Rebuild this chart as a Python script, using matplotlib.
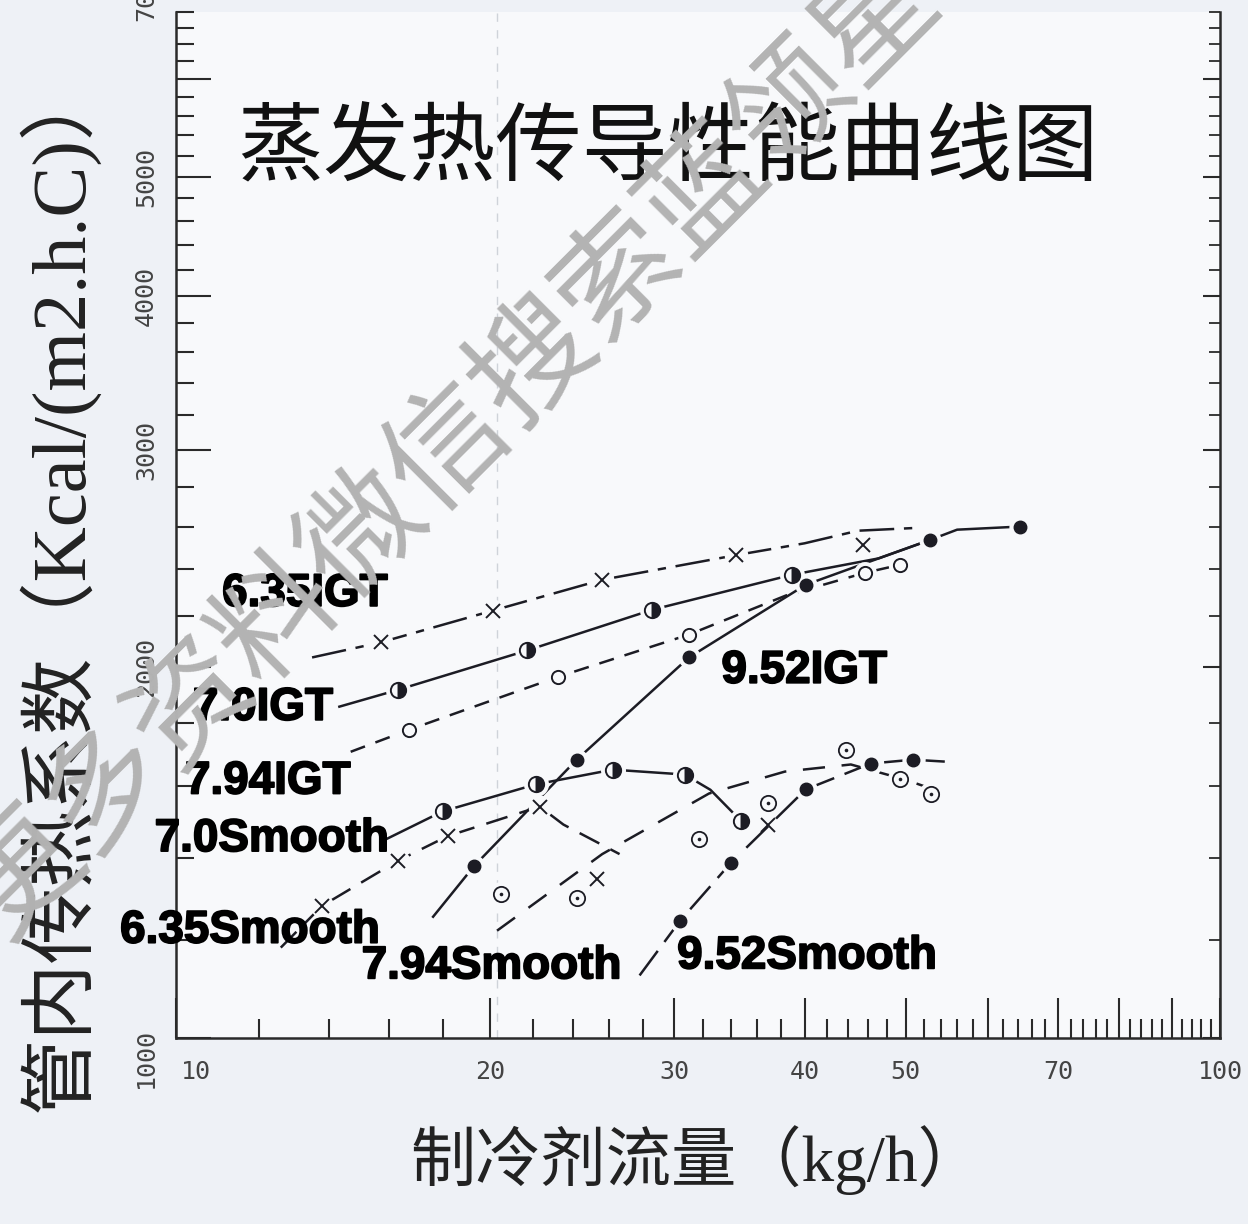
import matplotlib
matplotlib.use("Agg")
import matplotlib.pyplot as plt
import matplotlib.patheffects as pe
from matplotlib.ticker import NullFormatter
from matplotlib.transforms import ScaledTranslation

plt.rcParams["lines.scale_dashes"] = False
plt.rcParams["ytick.alignment"] = "center"

# ---------------- axis ticks ----------------
x_major = [10, 20, 30, 40, 50, 60, 70, 80, 90, 100]
x_major_labels = ["10", "20", "30", "40", "50", "", "70", "", "", "100"]
x_minor = [v for v in range(12, 100, 2) if v % 10]
y_major = [1000, 2000, 3000, 4000, 5000, 6000]
y_major_labels = ["1000", "2000", "3000", "4000", "5000", ""]
y_minor = [v for v in range(1200, 7000, 200) if v % 1000]

# ---------------- series (flow kg/h, coefficient) ----------------
# 6.35 IGT  (crosses, dash-dot)
igt635_pts_x = [15.7, 20.1, 25.6, 34.4, 45.5]
igt635_pts_y = [2094, 2222, 2354, 2465, 2512]
igt635_curve_x = [13.5, 15.7, 20.1, 25.6, 34.4, 40.0, 45.0, 51.4]
igt635_curve_y = [2036, 2094, 2222, 2354, 2465, 2520, 2580, 2594]

# 7.0 IGT  (half-filled circles, solid)
igt70_pts_x = [16.3, 21.7, 28.6, 38.9]
igt70_pts_y = [1916, 2063, 2226, 2376]
igt70_curve_x = [14.3, 16.3, 21.7, 28.6, 38.9, 47.1, 52.7]
igt70_curve_y = [1856, 1916, 2063, 2226, 2376, 2450, 2535]

# 7.94 IGT  (open circles, dashed)
igt794_pts_x = [16.7, 23.2, 31.0, 45.7, 49.4]
igt794_pts_y = [1778, 1963, 2125, 2385, 2421]
igt794_curve_x = [14.7, 16.7, 23.2, 31.0, 38.4, 45.7, 49.4]
igt794_curve_y = [1707, 1778, 1963, 2125, 2286, 2385, 2421]

# 9.52 IGT  (filled dots, solid)
igt952_pts_x = [19.3, 24.2, 31.0, 40.1, 52.7, 64.3]
igt952_pts_y = [1379, 1682, 2036, 2332, 2535, 2600]
igt952_curve_x = [17.6, 19.3, 24.2, 31.0, 40.1, 47.1, 52.7, 56.0, 64.3]
igt952_curve_y = [1252, 1379, 1682, 2036, 2332, 2450, 2535, 2585, 2600]

# 6.35 Smooth  (crosses, dashed)
sm635_pts_x = [13.8, 16.3, 18.2, 22.3]
sm635_pts_y = [1280, 1392, 1458, 1541]
sm635_curve_x = [12.6, 13.8, 16.3, 18.2, 22.3, 23.5, 26.6]
sm635_curve_y = [1184, 1280, 1392, 1458, 1541, 1490, 1410]

# 7.0 Smooth  (half-filled circles, solid)
sm70_pts_x = [18.0, 22.1, 26.2, 30.7, 34.8]
sm70_pts_y = [1527, 1606, 1651, 1636, 1499]
sm70_curve_x = [15.9, 18.0, 22.1, 26.2, 30.7, 32.5, 34.8]
sm70_curve_y = [1450, 1527, 1606, 1651, 1636, 1590, 1499]

# 7.94 Smooth  (dotted circles, dashed)
sm794_pts_x = [20.5, 24.2, 31.7, 36.9, 43.8, 49.4, 52.9]
sm794_pts_y = [1309, 1299, 1450, 1550, 1713, 1623, 1579]
sm794_curve_x = [20.3, 25.6, 32.4, 38.3, 44.3, 50.0, 55.0]
sm794_curve_y = [1222, 1410, 1579, 1645, 1667, 1620, 1575]

# 9.52 Smooth  (filled dots, long dash)
sm952_pts_x = [30.4, 34.0, 40.1, 46.3, 50.8]
sm952_pts_y = [1245, 1387, 1591, 1670, 1682]
sm952_curve_x = [27.8, 30.4, 34.0, 40.1, 46.3, 50.8, 54.5]
sm952_curve_y = [1124, 1245, 1387, 1591, 1670, 1682, 1676]

# stray cross marks on the curves
cross_x = [25.3, 36.9]
cross_y = [1346, 1490]

# curve labels: text, x, baseline y
label_text = ["6.35IGT", "7.0IGT", "7.94IGT", "7.0Smooth", "6.35Smooth",
              "7.94Smooth", "9.52Smooth", "9.52IGT"]
label_x = [11.07, 10.38, 10.2, 9.54, 8.84, 15.06, 30.2, 33.3]
label_y = [2242, 1812, 1579, 1418, 1195, 1118, 1139, 1942]

# ---------------- styling ----------------
INK = "#1c1c24"
BG_FIG = "#eef1f6"
BG_AX = "#f8f9fb"
TICK_TXT = "#444444"

fig = plt.figure(figsize=(12.48, 12.24), dpi=100, facecolor=BG_FIG)
ax = fig.add_axes([176 / 1248, 1 - 1038 / 1224, (1220 - 176) / 1248, (1038 - 12) / 1224])
ax.set_facecolor(BG_AX)
ax.set_xscale("log")
ax.set_yscale("log")
ax.set_xlim(10, 100)
ax.set_ylim(1000, 6720)

ax.axvline(20.3, color="#cfd3d9", lw=1.0, ls=(0, (6, 6)), zorder=1)

MARKERS = {
    "cross": dict(marker="x", ms=10, mew=1.4, mec=INK),
    "open": dict(marker="o", ms=9.5, mew=1.4, mec=INK, mfc=BG_AX),
    "half": dict(marker="o", ms=11, mew=1.4, mec=INK, mfc=INK,
                 fillstyle="right", markerfacecoloralt=BG_AX),
    "filled": dict(marker="o", ms=9, mew=1.0, mec=INK, mfc=INK),
    "dotted": dict(marker="o", ms=11, mew=1.3, mec=INK, mfc=BG_AX),
}

series = [
    (igt635_curve_x, igt635_curve_y, igt635_pts_x, igt635_pts_y, (0, (25, 7, 6, 7)), "cross"),
    (igt70_curve_x, igt70_curve_y, igt70_pts_x, igt70_pts_y, "-", "half"),
    (igt794_curve_x, igt794_curve_y, igt794_pts_x, igt794_pts_y, (0, (11, 8)), "open"),
    (igt952_curve_x, igt952_curve_y, igt952_pts_x, igt952_pts_y, "-", "filled"),
    (sm635_curve_x, sm635_curve_y, sm635_pts_x, sm635_pts_y, (0, (16, 9)), "cross"),
    (sm70_curve_x, sm70_curve_y, sm70_pts_x, sm70_pts_y, "-", "half"),
    (sm794_curve_x, sm794_curve_y, sm794_pts_x, sm794_pts_y, (0, (16, 12)), "dotted"),
    (sm952_curve_x, sm952_curve_y, sm952_pts_x, sm952_pts_y, (0, (22, 8)), "filled"),
]

for cx, cy, px, py, ls, kind in series:
    ax.plot(cx, cy, color=INK, lw=1.8, ls=ls, zorder=3, solid_capstyle="butt")
for cx, cy, px, py, ls, kind in series:
    mk = MARKERS[kind]
    ax.plot(px, py, ls="none", marker="o", ms=mk["ms"] + 7, mfc=BG_AX, mec="none", zorder=4)
    ax.plot(px, py, ls="none", zorder=5, **mk)
    if kind == "dotted":
        ax.plot(px, py, ls="none", marker="o", ms=2.6, mfc=INK, mec="none", zorder=6)

ax.plot(cross_x, cross_y, ls="none", zorder=5, **MARKERS["cross"])

for t, x, y in zip(label_text, label_x, label_y):
    ax.text(x, y, t, fontsize=33, fontweight="bold", family="Liberation Sans",
            color="#000000", ha="left", va="baseline", clip_on=False, zorder=8,
            path_effects=[pe.withStroke(linewidth=1.3, foreground="#000000")])

# ---------------- axes frame and ticks ----------------
ax.set_xticks(x_major, x_major_labels)
ax.set_xticks(x_minor, minor=True)
ax.set_yticks(y_major, y_major_labels)
ax.set_yticks(y_minor, minor=True)
ax.xaxis.set_minor_formatter(NullFormatter())
ax.yaxis.set_minor_formatter(NullFormatter())

ax.tick_params(axis="x", which="major", direction="in", length=29, width=1.5,
               color="#2a2a2a", pad=16, labelsize=18, labelcolor=TICK_TXT)
ax.tick_params(axis="x", which="minor", direction="in", length=14, width=1.5, color="#2a2a2a")
ax.tick_params(axis="y", which="major", direction="in", length=25, width=1.5,
               color="#2a2a2a", pad=13, labelsize=18, labelcolor=TICK_TXT,
               labelrotation=90, right=False)
ax.tick_params(axis="y", which="minor", direction="in", length=13, width=1.5,
               color="#2a2a2a", right=False)

for lbl in ax.get_xticklabels() + ax.get_yticklabels():
    lbl.set_fontfamily("DejaVu Sans Mono")
for lbl in ax.get_yticklabels():
    lbl.set_verticalalignment("center")

ax.spines["top"].set_visible(False)
ax.spines["right"].set_visible(False)
for s in ("left", "bottom"):
    ax.spines[s].set_linewidth(1.8)
    ax.spines[s].set_color("#2a2a2a")

# right-hand scale with shorter ticks
ax2 = ax.twinx()
ax2.set_yscale("log")
ax2.set_ylim(ax.get_ylim())
ax2.set_yticks(y_major)
ax2.set_yticks(y_minor, minor=True)
ax2.yaxis.set_major_formatter(NullFormatter())
ax2.yaxis.set_minor_formatter(NullFormatter())
ax2.tick_params(axis="y", which="major", direction="in", length=12, width=1.5, color="#2a2a2a")
ax2.tick_params(axis="y", which="minor", direction="in", length=8, width=1.3, color="#2a2a2a")
for s in ("left", "top", "bottom"):
    ax2.spines[s].set_visible(False)
ax2.spines["right"].set_linewidth(1.8)
ax2.spines["right"].set_color("#2a2a2a")

# nudge the corner labels away from the axis crossing
fig.canvas.draw()
xl = ax.get_xticklabels()[0]
xl.set_transform(xl.get_transform() + ScaledTranslation(0.2, 0, fig.dpi_scale_trans))
yl = ax.get_yticklabels()[0]
yl.set_transform(yl.get_transform() + ScaledTranslation(0, -0.2, fig.dpi_scale_trans))

ax.annotate("7000", xy=(0, 7000), xycoords=ax.get_yaxis_transform(),
            xytext=(-13, 4), textcoords="offset points", rotation=90,
            ha="right", va="center", fontsize=18, color=TICK_TXT,
            family="DejaVu Sans Mono", annotation_clip=False)

# ---------------- titles and axis labels ----------------
fig.text(237 / 1248, 1 - 150 / 1224, "蒸发热传导性能曲线图", fontsize=62,
         family="Noto Sans CJK SC", color="#111111", ha="left", va="center")

fig.text(58 / 1248, 1 - 1112 / 1224, "管内传热系数（Kcal/(m2.h.C)）", rotation=90,
         fontsize=55, family=["Liberation Serif", "Noto Sans CJK SC"],
         color="#222222", ha="center", va="bottom")

fig.text(410 / 1248, 1 - 1160 / 1224, "制冷剂流量（kg/h）", fontsize=47,
         family=["Liberation Serif", "Noto Sans CJK SC"], color="#222222",
         ha="left", va="center")

# diagonal watermark lettering
fig.text(492 / 1248, 1 - 405 / 1224, "更多资料微信搜索蓝领星球", rotation=45,
         rotation_mode="anchor", fontsize=87, family="Noto Sans CJK SC",
         color="#b3b3b3", ha="center", va="center", zorder=50)

fig.savefig("out.png", dpi=100, facecolor=BG_FIG)
